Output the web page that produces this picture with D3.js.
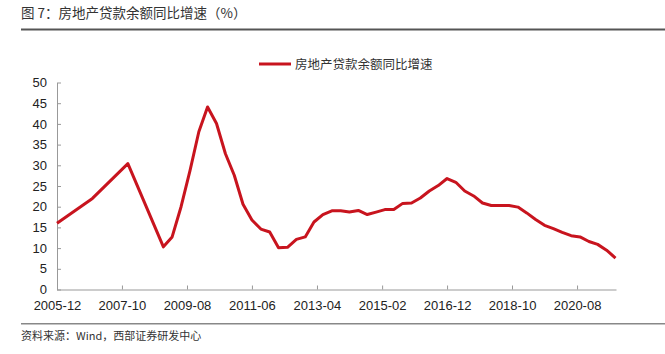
<!DOCTYPE html>
<html>
<head>
<meta charset="utf-8">
<script src="https://cdn.jsdelivr.net/npm/d3@7"></script>
<style>
  body { margin: 0; background: #fff; }
  svg { display: block; }
  .tick text { font-family: "Liberation Sans", Arial, sans-serif; font-size: 13px; fill: #222; }
</style>
</head>
<body>
<div id="chart"></div>
<script>
// 房地产贷款余额同比增速 (%)
const dates = [
  "2005-12", "2006-12", "2007-12", "2008-12",
  "2009-03", "2009-06", "2009-09", "2009-12",
  "2010-03", "2010-06", "2010-09", "2010-12",
  "2011-03", "2011-06", "2011-09", "2011-12",
  "2012-03", "2012-06", "2012-09", "2012-12",
  "2013-03", "2013-06", "2013-09", "2013-12",
  "2014-03", "2014-06", "2014-09", "2014-12",
  "2015-03", "2015-06", "2015-09", "2015-12",
  "2016-03", "2016-06", "2016-09", "2016-12",
  "2017-03", "2017-06", "2017-09", "2017-12",
  "2018-03", "2018-06", "2018-09", "2018-12",
  "2019-03", "2019-06", "2019-09", "2019-12",
  "2020-03", "2020-06", "2020-09", "2020-12",
  "2021-03", "2021-06", "2021-09"
];
const growth = [
  16.0, 22.0, 30.4, 10.3,
  12.7, 20.0, 28.7, 38.1,
  44.1, 40.1, 32.8, 27.6,
  20.6, 16.8, 14.6, 13.9,
  10.1, 10.2, 12.1, 12.7,
  16.3, 18.1, 19.0, 19.0,
  18.7, 19.1, 18.1, 18.7,
  19.3, 19.3, 20.8, 20.9,
  22.1, 23.8, 25.1, 26.8,
  25.9, 23.8, 22.6, 20.9,
  20.3, 20.3, 20.3, 19.9,
  18.5, 16.9, 15.5, 14.7,
  13.8, 13.0, 12.7, 11.6,
  10.9, 9.5, 7.6
];
const xTickLabels = ["2005-12", "2007-10", "2009-08", "2011-06", "2013-04", "2015-02", "2016-12", "2018-10", "2020-08"];
const yTicks = [0, 5, 10, 15, 20, 25, 30, 35, 40, 45, 50];
const seriesName = "房地产贷款余额同比增速";
const title = "图 7：房地产贷款余额同比增速（%）";
const source = "资料来源：Wind，西部证券研发中心";

const W = 665, H = 354;
const parse = d3.timeParse("%Y-%m");
const data = dates.map((d, i) => ({ date: parse(d), value: growth[i] }));

const svg = d3.select("#chart").append("svg")
  .attr("width", W)
  .attr("height", H);

const cjk = '"Noto Sans CJK SC", "Noto Sans", sans-serif';

// title + rule under it
svg.append("text")
  .attr("x", 21)
  .attr("y", 18)
  .attr("font-family", cjk)
  .attr("font-size", 13.5)
  .attr("fill", "#333")
  .text(title);
svg.append("rect").attr("x", 21).attr("y", 28).attr("width", W - 21).attr("height", 1).attr("fill", "#aaa");
svg.append("rect").attr("x", 21).attr("y", 29).attr("width", W - 21).attr("height", 1.5).attr("fill", "#555");

// footer
svg.append("rect").attr("x", 21).attr("y", 323).attr("width", W - 21).attr("height", 1.5).attr("fill", "#888");
svg.append("text")
  .attr("x", 21)
  .attr("y", 340)
  .attr("font-family", cjk)
  .attr("font-size", 11)
  .attr("fill", "#333")
  .text(source);

const x = d3.scaleTime()
  .domain([parse("2005-12"), parse("2021-09")])
  .range([57, 615.5]);

const y = d3.scaleLinear()
  .domain([0, 50])
  .range([289.5, 82.5]);

// axes (ticks point inward like the source)
const xAxis = svg.append("g")
  .attr("transform", `translate(0,${y(0)})`)
  .call(d3.axisBottom(x)
    .tickValues(xTickLabels.map(parse))
    .tickFormat(d3.timeFormat("%Y-%m"))
    .tickSizeInner(-4)
    .tickSizeOuter(0)
    .tickPadding(11));
xAxis.select(".domain").attr("stroke", "#999").attr("d", `M${x.range()[0]},0.5H${x.range()[1] + 1}`);
xAxis.selectAll(".tick line").attr("stroke", "#999");

const yAxis = svg.append("g")
  .attr("transform", `translate(${x.range()[0]},0)`)
  .call(d3.axisLeft(y)
    .tickValues(yTicks)
    .tickSizeInner(-4)
    .tickSizeOuter(0)
    .tickPadding(10));
yAxis.select(".domain").attr("stroke", "#999");
yAxis.selectAll(".tick line").attr("stroke", "#999");

// series
const line = d3.line()
  .x(d => x(d.date))
  .y(d => y(d.value));

svg.append("path")
  .datum(data)
  .attr("fill", "none")
  .attr("stroke", "#C8141E")
  .attr("stroke-width", 3)
  .attr("stroke-linejoin", "round")
  .attr("d", line);

// legend
const legend = svg.append("g").attr("transform", "translate(259,64)");
legend.append("line")
  .attr("x1", 0).attr("x2", 32)
  .attr("stroke", "#C8141E")
  .attr("stroke-width", 3);
legend.append("text")
  .attr("x", 36)
  .attr("y", 4.5)
  .attr("font-family", cjk)
  .attr("font-size", 12.5)
  .attr("fill", "#333")
  .text(seriesName);
</script>
</body>
</html>
